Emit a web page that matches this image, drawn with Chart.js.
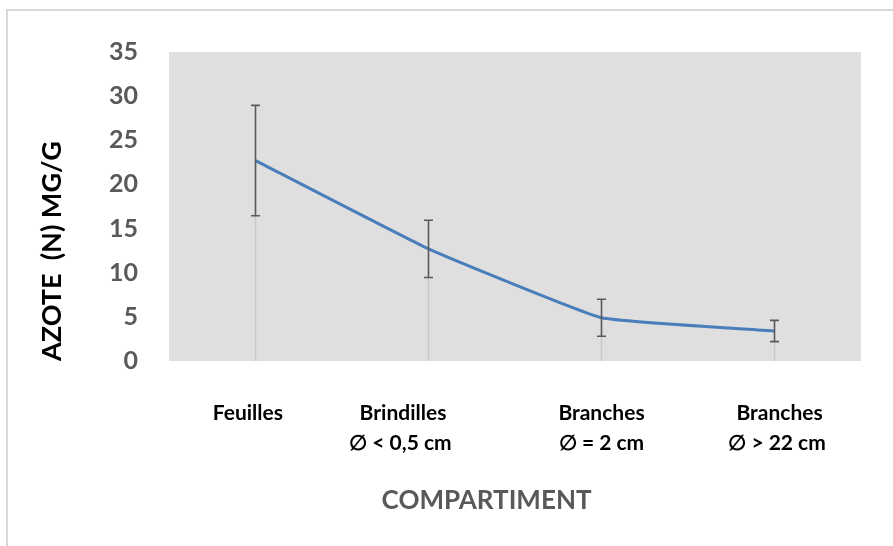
<!DOCTYPE html>
<html lang="fr">
<head>
  <meta charset="UTF-8" />
  <title>Azote par compartiment</title>
  <script src="https://cdn.jsdelivr.net/npm/chart.js"></script>
  <style>
    html, body {
      margin: 0;
      padding: 0;
      background: #fff;
    }

    body {
      width: 893px;
      height: 546px;
      position: relative;
      overflow: hidden;
    }

    /* cadre gris clair (bords gauche et haut seulement visibles) */
    .frame {
      position: absolute;
      left: 6px;
      top: 9px;
      width: 1000px;
      height: 1000px;
      border-left: 2px solid #d9d9d9;
      border-top: 2px solid #d9d9d9;
    }

    .wrap {
      position: absolute;
      left: 0;
      top: 0;
    }
  </style>
</head>
<body>
  <div class="frame"></div>
  <div class="wrap"><canvas id="chart" width="893" height="546"></canvas></div>

  <script>
    // catégories (les espaces reproduisent le décalage des étiquettes de l'original)
    const categories = [
      "Feuilles   ",
      ["Brindilles          ", "∅ < 0,5 cm           "],
      ["Branches", "∅ = 2 cm"],
      ["  Branches", " ∅ > 22 cm"]
    ];
    const azote = [22.7, 12.7, 4.9, 3.4];      // mg/g
    const ecartType = [6.25, 3.25, 2.1, 1.2];  // barres d'erreur
    const yMin = 0;
    const yMax = 35;
    const yStep = 5;

    const plotBackground = {
      id: "plotBackground",
      beforeDraw(chart) {
        const { ctx, chartArea: a } = chart;
        ctx.save();
        ctx.fillStyle = "#dfdfdf";
        ctx.fillRect(a.left, a.top, a.width, a.height);
        ctx.restore();
      }
    };

    const dropAndErrorBars = {
      id: "dropAndErrorBars",
      beforeDatasetsDraw(chart) {
        const { ctx, scales: { x, y } } = chart;
        ctx.save();
        ctx.strokeStyle = "#c8c8c8";
        ctx.lineWidth = 1.5;
        azote.forEach((v, i) => {
          const px = x.getPixelForValue(i);
          ctx.beginPath();
          ctx.moveTo(px, y.getPixelForValue(v));
          ctx.lineTo(px, y.getPixelForValue(yMin));
          ctx.stroke();
        });
        ctx.restore();
      },
      afterDatasetsDraw(chart) {
        const { ctx, scales: { x, y } } = chart;
        const cap = 4.5;
        ctx.save();
        ctx.strokeStyle = "#5a5a5a";
        ctx.lineWidth = 1.6;
        azote.forEach((v, i) => {
          const px = x.getPixelForValue(i);
          const top = y.getPixelForValue(v + ecartType[i]);
          const bot = y.getPixelForValue(v - ecartType[i]);
          ctx.beginPath();
          ctx.moveTo(px, top);
          ctx.lineTo(px, bot);
          ctx.moveTo(px - cap, top);
          ctx.lineTo(px + cap, top);
          ctx.moveTo(px - cap, bot);
          ctx.lineTo(px + cap, bot);
          ctx.stroke();
        });
        ctx.restore();
      }
    };

    new Chart(document.getElementById("chart"), {
      type: "line",
      data: {
        labels: categories,
        datasets: [{
          label: "Azote",
          data: azote,
          borderColor: "#4a7ebb",
          borderWidth: 3,
          pointRadius: 0,
          tension: 0.1,
          fill: false
        }]
      },
      options: {
        responsive: false,
        animation: false,
        devicePixelRatio: 1,
        layout: { padding: { top: 52, right: 32, left: 0, bottom: 0 } },
        plugins: {
          legend: { display: false },
          tooltip: { enabled: false }
        },
        scales: {
          x: {
            offset: true,
            grid: { display: false },
            border: { display: false },
            ticks: {
              color: "#000",
              font: { family: "Lato", size: 21, weight: "bold", lineHeight: 1.45 },
              padding: 29,
              maxRotation: 0,
              autoSkip: false
            },
            title: {
              display: true,
              text: "COMPARTIMENT         ",
              color: "#595959",
              font: { family: "Lato", size: 26, weight: "bold" },
              padding: { top: 0, bottom: 30 }
            },
            afterFit(scale) { scale.height = 185; }
          },
          y: {
            min: yMin,
            max: yMax,
            grid: { display: false },
            border: { display: false },
            ticks: {
              stepSize: yStep,
              color: "#595959",
              font: { family: "Lato", size: 25, weight: "bold" },
              padding: 23
            },
            title: {
              display: true,
              text: "AZOTE  (N) MG/G",
              align: "start",
              color: "#000",
              font: { family: "Lato", size: 27, weight: "bold" },
              padding: { top: 36, bottom: 0 }
            },
            afterFit(scale) { scale.width = 169; }
          }
        }
      },
      plugins: [plotBackground, dropAndErrorBars]
    });
  </script>
</body>
</html>
